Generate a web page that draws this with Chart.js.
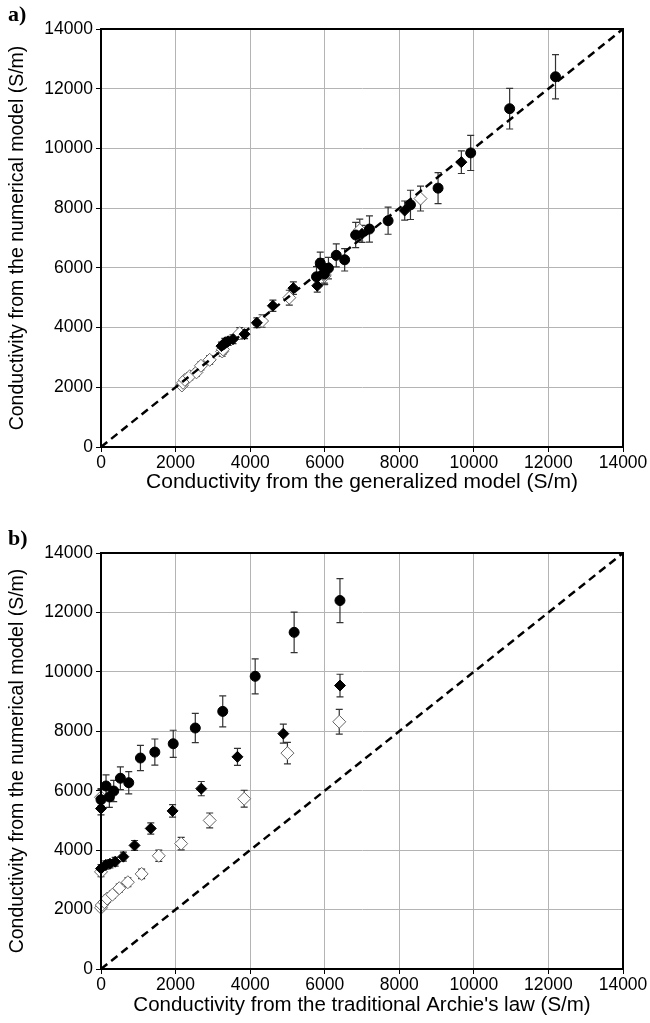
<!DOCTYPE html>
<html>
<head>
<meta charset="utf-8">
<script src="https://cdn.jsdelivr.net/npm/chart.js@4"></script>
<style>
  html, body { margin: 0; padding: 0; background: #fff; }
  body { width: 650px; height: 1023px; position: relative; overflow: hidden; }
  .panel { position: absolute; left: 0; width: 650px; }
  .tag { position: absolute; left: 8px; font: bold 22px "Liberation Serif", serif; color: #000; }
</style>
</head>
<body>
<div class="panel" style="top:0;height:505px"><canvas id="chartA" width="650" height="505"></canvas></div>
<div class="panel" style="top:505px;height:518px"><canvas id="chartB" width="650" height="518"></canvas></div>
<div class="tag" style="top:1px">a)</div>
<div class="tag" style="top:525px">b)</div>
<script>
// numerical model values (y) are shared by both panels
// filled circles
const circleY    = [5700, 6160, 5790, 5990, 6420, 6270, 7100, 7300, 7580, 8110, 8670, 9850, 11330, 12400];
const circleGen  = [5780, 5880, 5990, 6100, 6310, 6535, 6830, 7200, 7700, 8300, 9040, 9915, 10960, 12190];
const circleArch = [0, 135, 224, 341, 520, 744, 1058, 1444, 1937, 2529, 3265, 4135, 5180, 6409];
const circleErr  = [340, 370, 350, 360, 385, 375, 425, 440, 455, 490, 520, 590, 680, 740];

// filled diamonds
const fdY    = [3380, 3500, 3540, 3610, 3780, 4160, 4730, 5320, 6070, 7140, 7920, 9540, 5400];
const fdGen  = [3230, 3320, 3410, 3540, 3850, 4180, 4610, 5160, 5900, 7000, 8145, 9665, 5800];
const fdArch = [0, 125, 240, 380, 600, 900, 1335, 1920, 2690, 3660, 4890, 6410, 0];
const fdErr  = [135, 140, 140, 145, 150, 165, 190, 210, 240, 285, 320, 380, 215];

// open diamonds
const odY    = [2060, 2150, 2250, 2370, 2500, 2720, 2920, 3200, 3810, 4220, 5000, 5730, 7265, 8320, 3270, 5780];
const odGen  = [2170, 2200, 2250, 2380, 2560, 2680, 2915, 3250, 3720, 4320, 5050, 6000, 6940, 8570, 3270, 5990];
const odArch = [0, 20, 90, 165, 305, 490, 720, 1090, 1550, 2150, 2915, 3840, 5000, 6390, 0, 0];
const odErr  = [100, 105, 110, 120, 125, 135, 145, 160, 190, 210, 250, 285, 365, 415, 165, 290];

// 1:1 line
const oneToOne = [0, 14000];
const axisMin = 0, axisMax = 14000, axisStep = 2000;

const yTitle = 'Conductivity from the numerical model (S/m)';
const xTitleA = 'Conductivity from the generalized model (S/m)';
const xTitleB = "Conductivity from the traditional Archie's law (S/m)";

const fontFamily = 'Liberation Sans, Arial, sans-serif';

function pts(xs, ys) {
    return xs.map((x, i) => ({x: x, y: ys[i]}));
}

// error bars under the markers
const errorBars = {
    id: 'errorBars',
    beforeDatasetsDraw(chart) {
        const {ctx, scales: {x, y}} = chart;
        ctx.save();
        ctx.strokeStyle = '#333';
        ctx.lineWidth = 1.2;
        chart.data.datasets.forEach((ds) => {
            if (!ds.errors) return;
            ds.data.forEach((p, j) => {
                const e = ds.errors[j];
                const px = x.getPixelForValue(p.x);
                const top = y.getPixelForValue(p.y + e);
                const bot = y.getPixelForValue(p.y - e);
                ctx.beginPath();
                ctx.moveTo(px, top); ctx.lineTo(px, bot);
                ctx.moveTo(px - 3.5, top); ctx.lineTo(px + 3.5, top);
                ctx.moveTo(px - 3.5, bot); ctx.lineTo(px + 3.5, bot);
                ctx.stroke();
            });
        });
        ctx.restore();
    }
};

// black box round the plot
const frame = {
    id: 'frame',
    afterDraw(chart) {
        const {ctx, chartArea: a} = chart;
        ctx.save();
        ctx.strokeStyle = '#000';
        ctx.lineWidth = 2;
        ctx.strokeRect(a.left, a.top, a.right - a.left, a.bottom - a.top);
        ctx.restore();
    }
};

function makeChart(id, xs, xTitle, xTitleSize, padTop, xAxisHeight, xTitlePad) {
    const ctx = document.getElementById(id).getContext('2d');
    return new Chart(ctx, {
        type: 'scatter',
        data: {
            datasets: [
                {
                    type: 'line', data: pts(oneToOne, oneToOne), borderColor: '#000', borderWidth: 2.5,
                    borderDash: [8, 5], pointRadius: 0, fill: false, order: 0, clip: false
                },
                {
                    data: pts(xs.circle, circleY), errors: circleErr, pointStyle: 'circle', pointRadius: 5,
                    backgroundColor: '#000', borderColor: '#000', borderWidth: 1, order: 1, clip: false
                },
                {
                    data: pts(xs.fd, fdY), errors: fdErr, pointStyle: 'rectRot', pointRadius: 5.5,
                    backgroundColor: '#000', borderColor: '#000', borderWidth: 1, order: 2, clip: false
                },
                {
                    data: pts(xs.od, odY), errors: odErr, pointStyle: 'rectRot', pointRadius: 6.5,
                    backgroundColor: '#fff', borderColor: '#666', borderWidth: 1, order: 3, clip: false
                }
            ]
        },
        options: {
            responsive: false,
            animation: false,
            layout: {padding: {top: padTop, right: 27, left: 0, bottom: 0}},
            plugins: {legend: {display: false}, tooltip: {enabled: false}},
            scales: {
                x: {
                    min: axisMin, max: axisMax,
                    afterFit: (s) => { s.height = xAxisHeight; },
                    ticks: {stepSize: axisStep, color: '#000', padding: 1, maxRotation: 0,
                        font: {family: fontFamily, size: 17.5},
                        callback: (v) => String(v)},
                    grid: {color: '#b4b4b4', lineWidth: 1, tickLength: 5, tickColor: '#000'},
                    border: {color: '#000', width: 2},
                    title: {display: true, text: xTitle, color: '#000', padding: {top: 0, bottom: xTitlePad},
                        font: {family: fontFamily, size: xTitleSize}}
                },
                y: {
                    min: axisMin, max: axisMax,
                    afterFit: (s) => { s.width = 101; },
                    ticks: {stepSize: axisStep, color: '#000', padding: 3,
                        font: {family: fontFamily, size: 17.5},
                        callback: (v) => String(v)},
                    grid: {color: '#b4b4b4', lineWidth: 1, tickLength: 5, tickColor: '#000'},
                    border: {color: '#000', width: 2},
                    title: {display: true, text: yTitle, color: '#000', padding: {top: 6, bottom: 0},
                        font: {family: fontFamily, size: 19.5}}
                }
            }
        },
        plugins: [errorBars, frame]
    });
}

makeChart('chartA', {circle: circleGen, fd: fdGen, od: odGen}, xTitleA, 21, 29, 58, 10);
makeChart('chartB', {circle: circleArch, fd: fdArch, od: odArch}, xTitleB, 20.5, 48, 54, 5);
</script>
</body>
</html>
